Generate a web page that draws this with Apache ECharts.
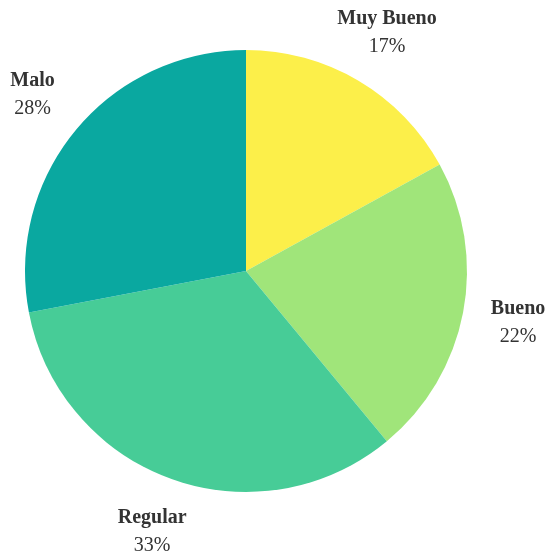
<!DOCTYPE html>
<html><head><meta charset="utf-8">
<script src="https://cdn.jsdelivr.net/npm/echarts@6/dist/echarts.min.js"></script>
<style>html,body{margin:0;padding:0;background:#fff}#c{width:558px;height:552px}</style>
</head><body><div id="c"></div>
<script>
const categories = ['Muy Bueno', 'Bueno', 'Regular', 'Malo'];
const values = [17, 22, 33, 28];
const colors = ['#fcef4a', '#a0e57a', '#47cc97', '#0aa8a0'];

const data = categories.map((n, i) => ({ name: n, value: values[i], itemStyle: { color: colors[i] } }));
const labelData = categories.map((n, i) => ({ name: n, value: values[i] }));

const chart = echarts.init(document.getElementById('c'));
chart.setOption({
  animation: false,
  series: [
    {
      type: 'pie',
      center: [246, 271],
      radius: [0, 221],
      startAngle: 90,
      clockwise: true,
      label: { show: false },
      labelLine: { show: false },
      itemStyle: { borderWidth: 0 },
      emphasis: { disabled: true },
      data: data
    },
    {
      type: 'pie',
      center: [246, 271],
      radius: [0, 548],
      startAngle: 90,
      clockwise: true,
      silent: true,
      z: 1,
      itemStyle: { color: 'rgba(0,0,0,0)', borderWidth: 0 },
      label: {
        show: true,
        position: 'inside',
        formatter: '{n|{b}}\n{p|{d}%}',
        rich: {
          n: { fontFamily: 'Liberation Serif', fontWeight: 'bold', fontSize: 20, color: '#333', lineHeight: 28 },
          p: { fontFamily: 'Liberation Serif', fontSize: 20, color: '#333', lineHeight: 28 }
        }
      },
      labelLine: { show: false },
      emphasis: { disabled: true },
      data: labelData
    }
  ]
});
</script></body></html>
